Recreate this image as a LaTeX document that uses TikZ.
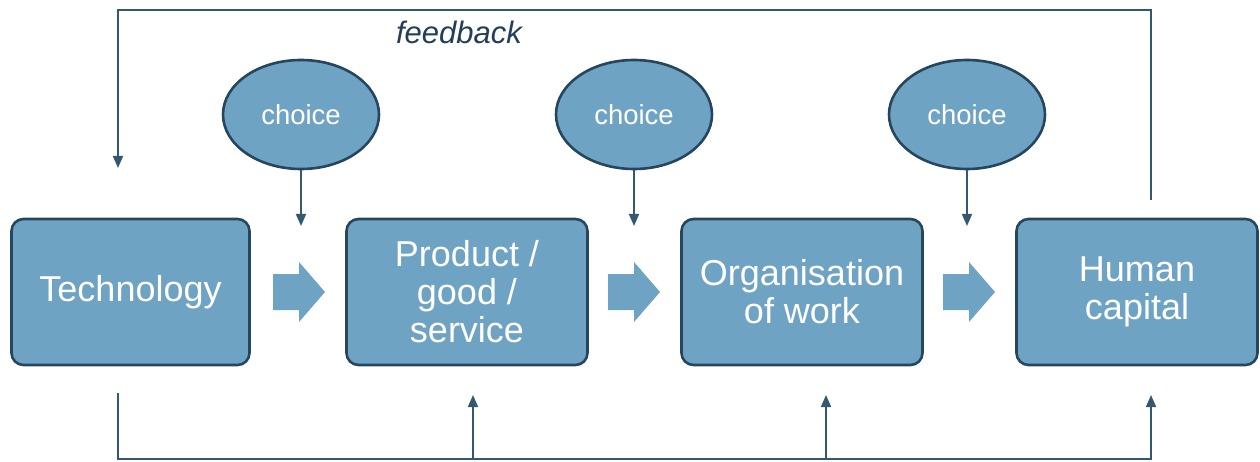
\documentclass[tikz,border=0pt]{standalone}
\usepackage{fontspec}
\setmainfont{Liberation Sans}
\usetikzlibrary{shapes.geometric,arrows.meta}
\definecolor{boxfill}{RGB}{111,163,196}
\definecolor{boxline}{RGB}{38,70,94}
\definecolor{conn}{RGB}{52,88,112}
\definecolor{fbtext}{RGB}{35,62,88}
\tikzset{
  stagebox/.style={draw=boxline, line width=2.6pt, fill=boxfill, rounded corners=12pt,
    minimum width=#1, minimum height=146pt, inner sep=0pt, align=center, text=white,
    font=\fontsize{36}{38}\selectfont},
  choicenode/.style={ellipse, draw=boxline, line width=2.6pt, fill=boxfill,
    minimum width=156pt, minimum height=109pt, inner sep=0pt, text=white,
    font=\fontsize{27.5}{30}\selectfont},
  conline/.style={draw=conn, line width=1.8pt},
  conarrow/.style={conline, -{Triangle[width=10pt,length=12pt]}},
  blockarrow/.style={fill=boxfill},
}
\begin{document}
\begin{tikzpicture}[x=1pt,y=-1pt]
\useasboundingbox (0,0) rectangle (1260,462);
% stage boxes
\node[stagebox=238pt] (tech) at (130.5,292) {Technology};
\node[stagebox=241pt] (prod) at (467,292) {Product /\\good /\\service};
\node[stagebox=241pt] (org) at (802,292) {Organisation\\of work};
\node[stagebox=241pt] (hum) at (1137,292) {Human\\capital};
% choice ellipses
\node[choicenode] (c1) at (301,114.5) {choice};
\node[choicenode] (c2) at (634,114.5) {choice};
\node[choicenode] (c3) at (967,114.5) {choice};
% choice arrows
\coordinate (t1) at (301,226);
\coordinate (t2) at (634,226);
\coordinate (t3) at (967,226);
\draw[conarrow] (c1.south) -- (t1);
\draw[conarrow] (c2.south) -- (t2);
\draw[conarrow] (c3.south) -- (t3);
% block arrows between boxes
\foreach \xs in {273,608,943}{
  \fill[blockarrow] (\xs,274) -- (\xs+26,274) -- (\xs+26,262) -- (\xs+52,292)
     -- (\xs+26,322) -- (\xs+26,310) -- (\xs,310) -- cycle;
}
% feedback loop
\coordinate (fbs) at (1151,200);
\coordinate (fbtr) at (1151,10);
\coordinate (fbtl) at (118,10);
\coordinate (fbe) at (118,168);
\draw[conarrow] (fbs) -- (fbtr) -- (fbtl) -- (fbe);
\node[text=fbtext, font=\fontsize{31}{34}\selectfont\itshape, anchor=base] (fb) at (459,44) {feedback};
% bottom loop
\coordinate (bs) at (118,393);
\coordinate (bl) at (118,459);
\coordinate (br) at (1151,459);
\coordinate (bm1) at (473,459);
\coordinate (bm2) at (826,459);
\coordinate (be1) at (473,395);
\coordinate (be2) at (826,395);
\coordinate (be3) at (1151,395);
\draw[conarrow] (bs) -- (bl) -- (br) -- (be3);
\draw[conarrow] (bm1) -- (be1);
\draw[conarrow] (bm2) -- (be2);
\end{tikzpicture}
\end{document}
